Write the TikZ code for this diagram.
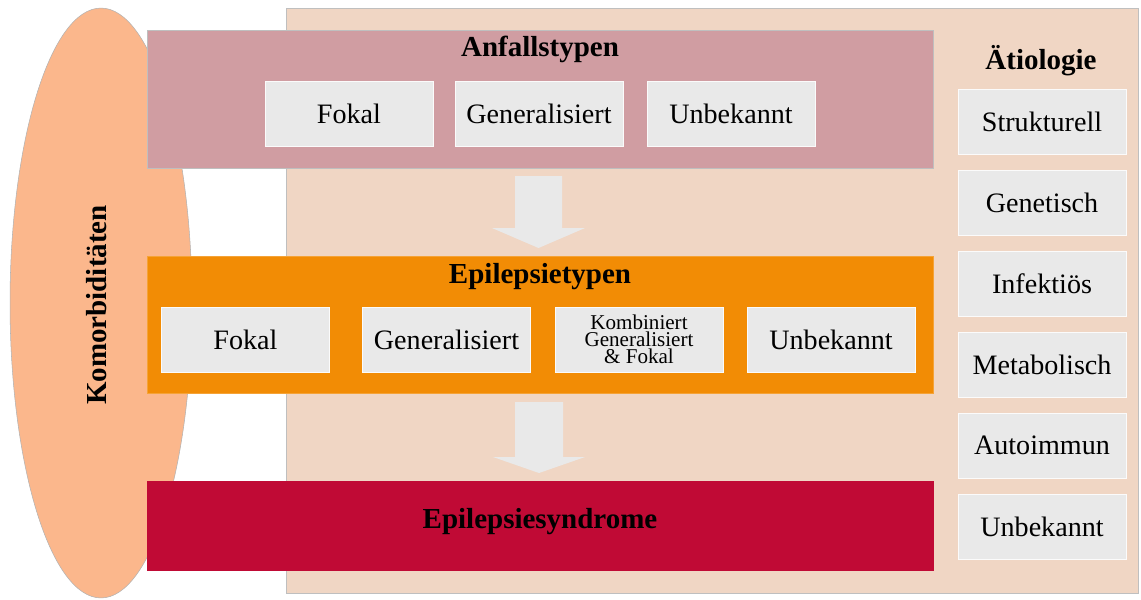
\documentclass[tikz,border=0pt]{standalone}
\usepackage{fontspec}
\setmainfont{Liberation Serif}
\usetikzlibrary{shapes.geometric}
\definecolor{panelc}{HTML}{F0D6C4}
\definecolor{anfc}{HTML}{D09DA2}
\definecolor{epic}{HTML}{F28C05}
\definecolor{sync}{HTML}{C00A35}
\definecolor{ellc}{HTML}{FBB78C}
\definecolor{boxc}{HTML}{E9E9E9}
\begin{document}
\begin{tikzpicture}[x=0.02cm,y=-0.02cm,
  bigbox/.style={draw=black!25,line width=0.4pt,inner sep=0pt,minimum width=15.72cm},
  item/.style={fill=boxc,draw=white!80!boxc,line width=0.4pt,minimum width=3.36cm,minimum height=1.3cm,inner sep=0pt,font=\fontsize{16}{18}\selectfont},
  ttl/.style={font=\fontsize{16.5}{18}\selectfont\bfseries},
  blockarrow/.style={fill=boxc,draw=none}]
\useasboundingbox (0,0) rectangle (1141,599);
% background panel
\node[fill=panelc,draw=black!25,line width=0.4pt,minimum width=17.04cm,minimum height=11.7cm,inner sep=0pt] (panel) at (712,300.5) {};
% ellipse
\node[ellipse,fill=ellc,draw=black!30,line width=0.3pt,minimum width=3.64cm,minimum height=11.8cm,inner sep=0pt] (komo) at (101,303) {};
\node[ttl,rotate=90] (komot) at (97,305) {Komorbiditäten};
% Anfallstypen
\node[bigbox,fill=anfc,minimum height=2.76cm] (anf) at (540,99) {};
\node[ttl] (anft) at (540,49) {Anfallstypen};
\node[item] (a1) at (349,113.5) {Fokal};
\node[item] (a2) at (539,113.5) {Generalisiert};
\node[item] (a3) at (731,113.5) {Unbekannt};
% Epilepsietypen
\node[bigbox,fill=epic,draw=epic!80!white,minimum height=2.74cm] (epi) at (540,324.5) {};
\node[ttl] (epit) at (540,277) {Epilepsietypen};
\node[item] (e1) at (245.5,339.5) {Fokal};
\node[item] (e2) at (446.5,339.5) {Generalisiert};
\node[item,font=\fontsize{12}{9.6}\selectfont,align=center] (e3) at (639,339.5) {Kombiniert\\Generalisiert\\\&~Fokal};
\node[item] (e4) at (831,339.5) {Unbekannt};
% Syndrome
\node[bigbox,fill=sync,draw=sync,minimum height=1.78cm] (syn) at (540,525.5) {};
\node[ttl] (synt) at (540,522) {Epilepsiesyndrome};
% arrows
\fill[blockarrow] (515,176) -- (562,176) -- (562,228) -- (585,228) -- (538.5,248) -- (492,228) -- (515,228) -- cycle;
\fill[blockarrow] (515,402) -- (563,402) -- (563,457) -- (585,457) -- (539,473) -- (493,457) -- (515,457) -- cycle;
% Aetiologie
\node[ttl] (aet) at (1041,61) {Ätiologie};
\node[item] (r1) at (1042,121.5) {Strukturell};
\node[item] (r2) at (1042,202.5) {Genetisch};
\node[item] (r3) at (1042,283.5) {Infektiös};
\node[item] (r4) at (1042,364.5) {Metabolisch};
\node[item] (r5) at (1042,445.5) {Autoimmun};
\node[item] (r6) at (1042,526.5) {Unbekannt};
\end{tikzpicture}
\end{document}
